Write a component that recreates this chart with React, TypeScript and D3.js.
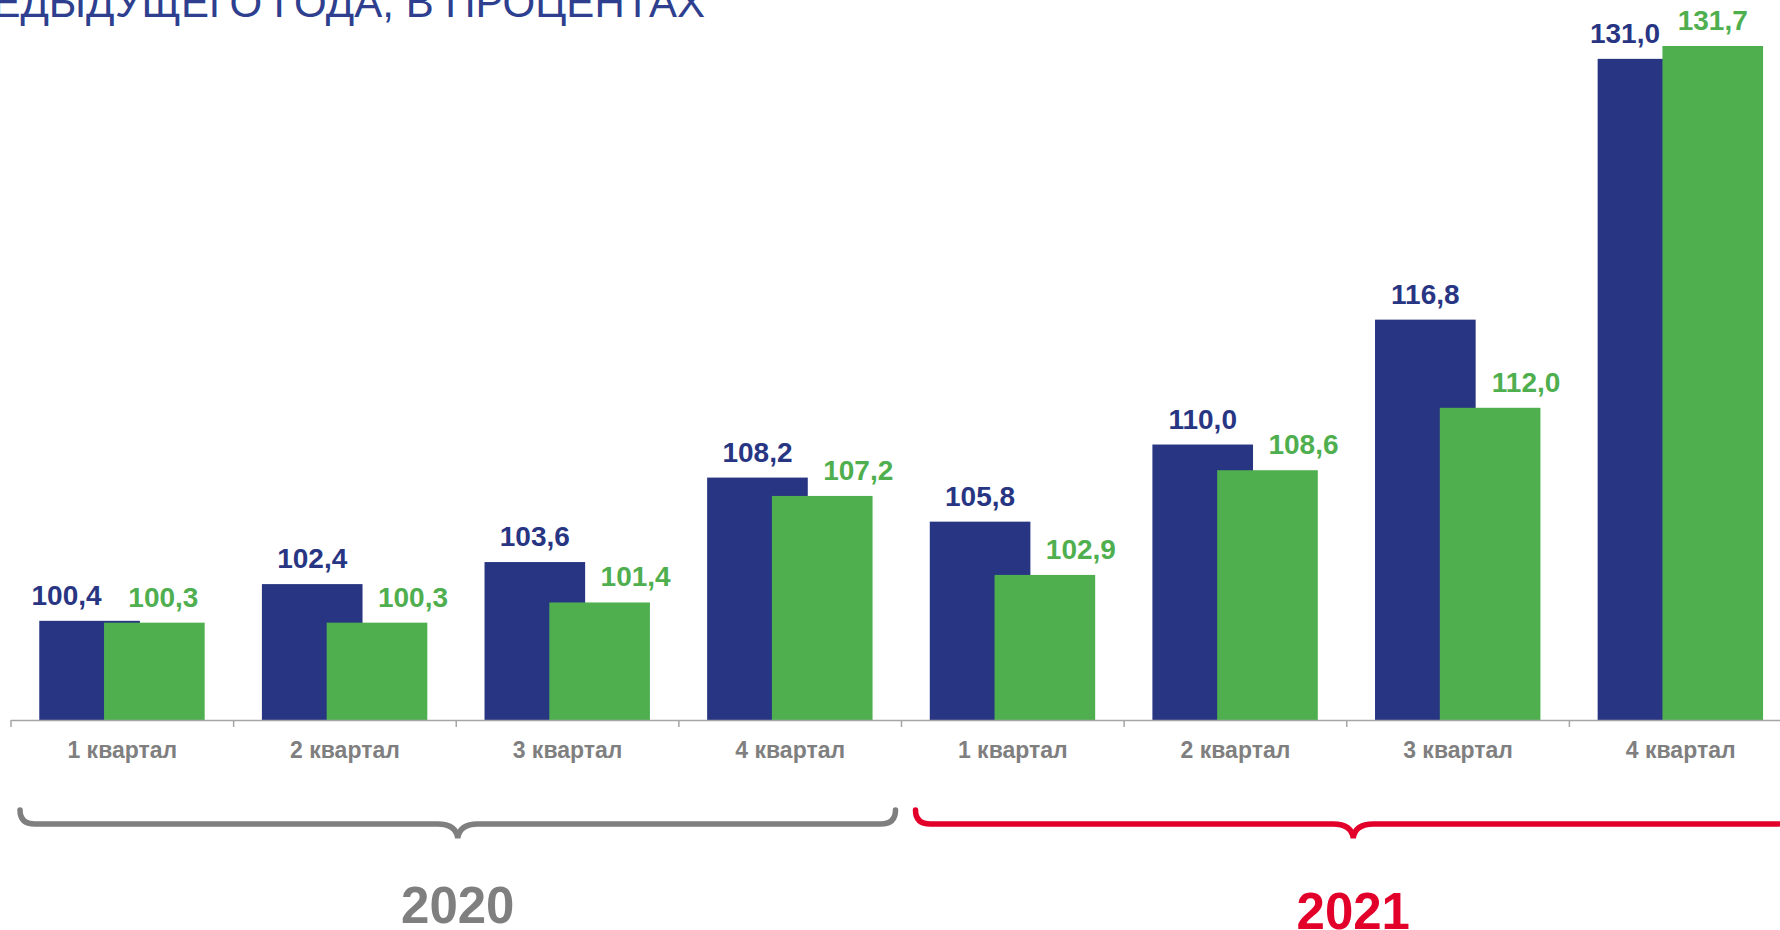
import React, { useEffect, useRef } from 'react';
import * as d3 from 'd3';

// values
const quarters = [
  '1 квартал', '2 квартал', '3 квартал', '4 квартал',
  '1 квартал', '2 квартал', '3 квартал', '4 квартал',
];
const blueValues = [100.4, 102.4, 103.6, 108.2, 105.8, 110.0, 116.8, 131.0];
const greenValues = [100.3, 100.3, 101.4, 107.2, 102.9, 108.6, 112.0, 131.7];
const years = ['2020', '2021'];
const quartersPerYear = 4;
const titleText = 'ПРЕДЫДУЩЕГО ГОДА, В ПРОЦЕНТАХ';

const BLUE = '#283583';
const GREEN = '#4faf4f';
const GRAY = '#7f7f7f';
const RED = '#e2002b';
const FONT = '"Liberation Sans", Arial, Helvetica, sans-serif';

const App: React.FC = () => {
  const svgRef = useRef<SVGSVGElement>(null);
  const width = 1780;
  const height = 930;

  useEffect(() => {
    if (!svgRef.current) return;
    d3.select(svgRef.current).selectAll('*').remove();

    const svg = d3.select(svgRef.current).attr('width', width).attr('height', height);

    const baseline = 720;
    const x = d3
      .scaleBand<number>()
      .domain(d3.range(quarters.length))
      .range([11, 1792])
      .paddingInner(0)
      .paddingOuter(0);
    const bw = x.bandwidth();

    // axis does not start at zero in the original
    const y = d3.scaleLinear().domain([95, 131.7]).range([baseline, 46]);
    const fmt = (v: number) => d3.format('.1f')(v).replace('.', ',');

    // title (cut off at top of the slide)
    svg
      .append('text')
      .attr('x', 705)
      .attr('y', 17)
      .attr('text-anchor', 'end')
      .style('font-family', FONT)
      .style('font-size', '42px')
      .style('fill', '#2e3f8f')
      .text(titleText);

    const blueX = (i: number) => (x(i) ?? 0) + bw * 0.127;
    const greenX = (i: number) => (x(i) ?? 0) + bw * 0.418;
    const barW = bw * 0.452;

    // bars
    svg
      .selectAll('.blue')
      .data(blueValues)
      .enter()
      .append('rect')
      .attr('x', (_d, i) => blueX(i))
      .attr('y', (d) => y(d))
      .attr('width', barW)
      .attr('height', (d) => baseline - y(d))
      .style('fill', BLUE);

    svg
      .selectAll('.green')
      .data(greenValues)
      .enter()
      .append('rect')
      .attr('x', (_d, i) => greenX(i))
      .attr('y', (d) => y(d))
      .attr('width', barW)
      .attr('height', (d) => baseline - y(d))
      .style('fill', GREEN);

    // value labels, pushed apart when the two bars are almost equal
    const close = (i: number) => Math.abs(blueValues[i] - greenValues[i]) < 1;

    svg
      .selectAll('.blueLabel')
      .data(blueValues)
      .enter()
      .append('text')
      .attr('x', (_d, i) => blueX(i) + barW / 2 + (close(i) ? -23 : 0))
      .attr('y', (d) => y(d) - 16)
      .attr('text-anchor', 'middle')
      .style('font-family', FONT)
      .style('font-weight', 'bold')
      .style('font-size', '28px')
      .style('fill', BLUE)
      .text((d) => fmt(d));

    svg
      .selectAll('.greenLabel')
      .data(greenValues)
      .enter()
      .append('text')
      .attr('x', (d, i) => {
        const cx = greenX(i) + barW / 2;
        if (close(i)) return cx + (d < blueValues[i] ? 9 : 0);
        return cx + 36;
      })
      .attr('y', (d) => y(d) - 16)
      .attr('text-anchor', 'middle')
      .style('font-family', FONT)
      .style('font-weight', 'bold')
      .style('font-size', '28px')
      .style('fill', GREEN)
      .text((d) => fmt(d));

    // axis line + ticks between categories
    svg
      .append('line')
      .attr('x1', x(0) ?? 0)
      .attr('x2', 1792)
      .attr('y1', baseline + 0.5)
      .attr('y2', baseline + 0.5)
      .style('stroke', '#a6a6a6')
      .style('stroke-width', 1.5);

    svg
      .selectAll('.tick')
      .data(d3.range(quarters.length + 1))
      .enter()
      .append('line')
      .attr('x1', (d) => (x(0) ?? 0) + d * bw)
      .attr('x2', (d) => (x(0) ?? 0) + d * bw)
      .attr('y1', baseline)
      .attr('y2', baseline + 7)
      .style('stroke', '#a6a6a6')
      .style('stroke-width', 1.5);

    svg
      .selectAll('.cat')
      .data(quarters)
      .enter()
      .append('text')
      .attr('x', (_d, i) => (x(i) ?? 0) + bw / 2)
      .attr('y', 758)
      .attr('text-anchor', 'middle')
      .style('font-family', FONT)
      .style('font-weight', 'bold')
      .style('font-size', '23px')
      .style('fill', GRAY)
      .text((d) => d);

    // curly braces under each year
    const brace = (x0: number, x1: number) => {
      const top = 810;
      const line = 824;
      const tip = 838;
      const r = 15;
      const mid = (x0 + x1) / 2;
      return [
        `M${x0},${top}`,
        `Q${x0},${line} ${x0 + r},${line}`,
        `L${mid - 20},${line}`,
        `Q${mid - 2},${line} ${mid},${tip}`,
        `Q${mid + 2},${line} ${mid + 20},${line}`,
        `L${x1 - r},${line}`,
        `Q${x1},${line} ${x1},${top}`,
      ].join(' ');
    };

    const yearColors = [GRAY, RED];
    years.forEach((yr, k) => {
      const start = (x(k * quartersPerYear) ?? 0) + (k === 0 ? 9 : 14);
      const end = (x(0) ?? 0) + (k + 1) * quartersPerYear * bw - (k === 0 ? 6 : 1);
      svg
        .append('path')
        .attr('d', brace(start, end))
        .style('fill', 'none')
        .style('stroke', yearColors[k])
        .style('stroke-width', 5.5)
        .style('stroke-linecap', 'round');

      svg
        .append('text')
        .attr('x', (start + end) / 2)
        .attr('y', k === 0 ? 923 : 929)
        .attr('text-anchor', 'middle')
        .style('font-family', FONT)
        .style('font-weight', 'bold')
        .style('font-size', '51px')
        .style('fill', yearColors[k])
        .text(yr);
    });
  }, []);

  return (
    <div style={{ position: 'fixed', left: 0, top: 0, width, height, overflow: 'hidden', background: '#fff' }}>
      <svg ref={svgRef}></svg>
    </div>
  );
};

export default App;
